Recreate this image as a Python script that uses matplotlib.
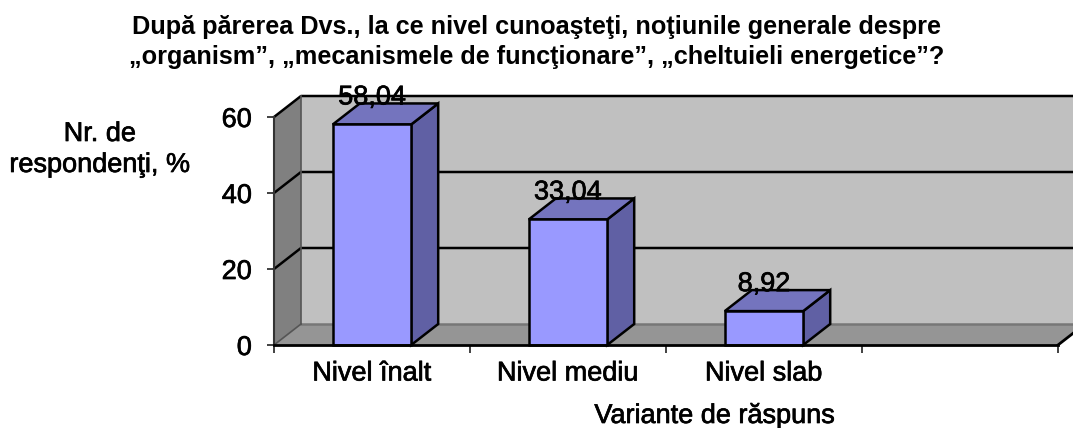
import matplotlib.pyplot as plt
import matplotlib.patheffects as pe
from matplotlib.patches import Polygon

plt.rcParams['font.family'] = ['Liberation Sans', 'DejaVu Sans']

categories = ['Nivel înalt', 'Nivel mediu', 'Nivel slab', '']
values = [58.04, 33.04, 8.92]
value_labels = ['58,04', '33,04', '8,92']
y_ticks = [0, 20, 40, 60]

W, H = 1073, 428
fig = plt.figure(figsize=(W / 100, H / 100), dpi=100)
# axes = front plane of the fake 3D box
ax = fig.add_axes([274 / W, 1 - 345 / H, 784 / W, 228 / H])
ax.set_xlim(0, len(categories))
ax.set_ylim(0, 60)
ax.patch.set_visible(False)
for s in ax.spines.values():
    s.set_visible(False)

dx = 27 / 196
dy = 21 / 3.8
top = y_ticks[-1]
n = len(categories)
heavy = [pe.withStroke(linewidth=0.5, foreground='black')]


def poly(pts, fc, ec='black', lw=1.8, z=2):
    ax.add_patch(Polygon(pts, closed=True, fc=fc, ec=ec, lw=lw, zorder=z, clip_on=False, joinstyle='miter'))


# walls and floor
poly([(dx, dy), (n + dx, dy), (n + dx, top + dy), (dx, top + dy)], '#c0c0c0', ec='none', lw=0, z=1)
poly([(0, 0), (dx, dy), (dx, top + dy), (0, top)], '#808080', ec='none', lw=0, z=1)
poly([(0, 0), (n, 0), (n + dx, dy), (dx, dy)], '#959595', ec='none', lw=0, z=1)

# gridlines, back wall plus the step on the side wall
for t in y_ticks[1:]:
    ax.plot([0, dx, n + dx], [t, t + dy, t + dy], color='black', lw=1.8, zorder=1.5, clip_on=False)
ax.plot([dx, n + dx], [dy, dy], color='#777777', lw=1.8, zorder=1.5, clip_on=False)
ax.plot([dx, dx], [dy, top + dy], color='#555555', lw=1.2, zorder=1.5, clip_on=False)
ax.plot([0, dx], [0, dy], color='#555555', lw=1.2, zorder=1.5, clip_on=False)
ax.plot([n, n + dx], [0, dy], color='black', lw=2, zorder=1.5, clip_on=False)
ax.plot([0, 0], [0, top], color='#333333', lw=1.5, zorder=1.6, clip_on=False)
ax.plot([0, n], [0, 0], color='black', lw=2, zorder=4, clip_on=False)

# bars
bw = 0.4
for i, v in enumerate(values):
    l = i + 0.5 - bw / 2
    r = l + bw
    poly([(r, 0), (r + dx, dy), (r + dx, v + dy), (r, v)], '#6060a4', z=3)
    poly([(l, v), (r, v), (r + dx, v + dy), (l + dx, v + dy)], '#7474be', z=3)
    poly([(l, 0), (r, 0), (r, v), (l, v)], '#9999ff', z=3)
    ax.text(i + 0.5, v + 7.1, value_labels[i], ha='center', va='center', fontsize=19.5, color='black', zorder=5,
            path_effects=heavy)

ax.set_xticks(range(n + 1))
ax.set_xticklabels([''] * (n + 1))
ax.set_yticks(y_ticks)
ax.tick_params(axis='x', length=6, width=1.3, color='#333333')
ax.tick_params(axis='y', length=5, width=1.3, color='#333333', labelsize=19.5, pad=11)
for lab in ax.get_yticklabels():
    lab.set_path_effects(heavy)

for i, c in enumerate(categories):
    ax.text(i + 0.5, -7.5, c, ha='center', va='center', fontsize=19.5, path_effects=heavy)

fig.text(537 / W, 1 - 27 / H, 'După părerea Dvs., la ce nivel cunoaşteţi, noţiunile generale despre',
         ha='center', va='center', fontsize=18.2, fontweight='bold')
fig.text(537 / W, 1 - 57 / H, '„organism”, „mecanismele de funcţionare”, „cheltuieli energetice”?',
         ha='center', va='center', fontsize=18.2, fontweight='bold')
fig.text(100 / W, 1 - 134 / H, 'Nr. de', ha='center', va='center', fontsize=19.5, path_effects=heavy)
fig.text(100 / W, 1 - 165 / H, 'respondenţi, %', ha='center', va='center', fontsize=19.5, path_effects=heavy)
fig.text(715 / W, 1 - 416 / H, 'Variante de răspuns', ha='center', va='center', fontsize=19.5, path_effects=heavy)

fig.savefig('out.png', dpi=100)
